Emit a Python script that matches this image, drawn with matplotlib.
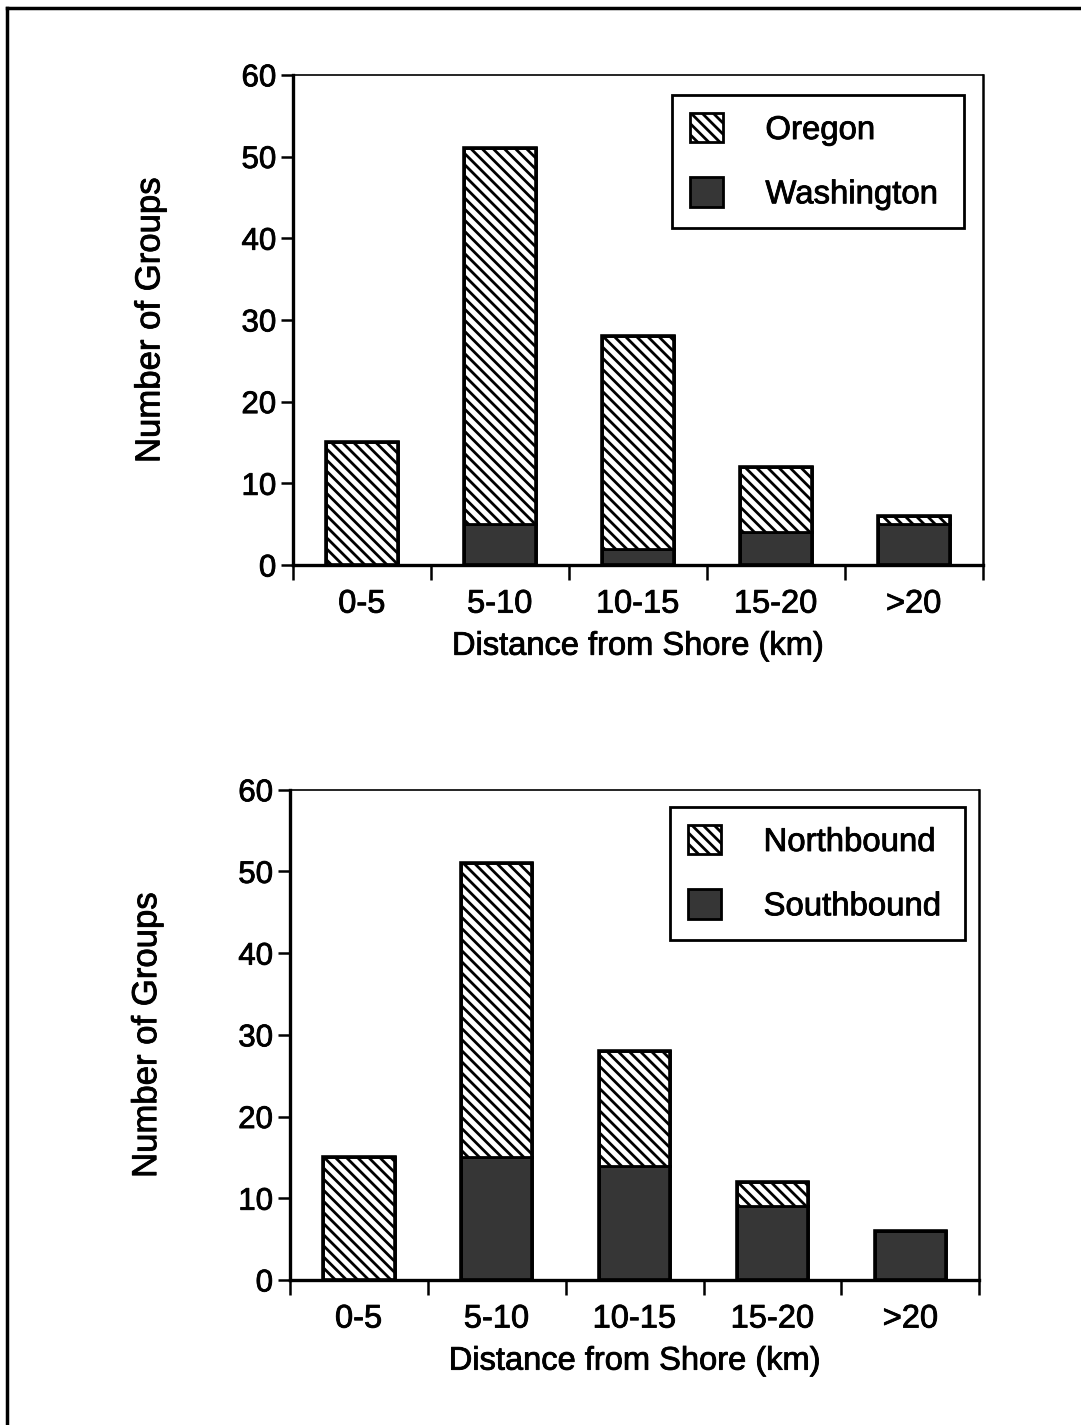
import numpy as np
import matplotlib
matplotlib.use("Agg")
import matplotlib.pyplot as plt
import matplotlib.patheffects as pe
from matplotlib.lines import Line2D
from matplotlib.text import Text

plt.rcParams['font.family'] = ['Liberation Sans', 'DejaVu Sans']
plt.rcParams['hatch.linewidth'] = 2.0

# data
categories = ["0-5", "5-10", "10-15", "15-20", ">20"]
washington = [0, 5, 2, 4, 5]
oregon = [15, 46, 26, 8, 1]
southbound = [0, 15, 14, 9, 6]
northbound = [15, 36, 14, 3, 0]

dark = '#363636'


def draw_panel(ax, light_vals, dark_vals, labels, leg_box):
    x = np.arange(len(categories))
    b1 = ax.bar(x, dark_vals, width=0.52, color=dark, edgecolor='black',
                linewidth=2, label=labels[1])
    b2 = ax.bar(x, light_vals, width=0.52, bottom=dark_vals, color='white',
                edgecolor='black', hatch='\\\\\\', linewidth=2, label=labels[0])
    # outline of whole stack
    tot = np.array(light_vals) + np.array(dark_vals)
    ax.bar(x, tot, width=0.52, color='none', edgecolor='black', linewidth=2.6)

    ax.set_xlim(-0.5, 4.5)
    ax.set_ylim(0, 60)
    ax.set_yticks(range(0, 61, 10))
    ax.set_xticks(np.arange(-0.5, 5, 1))
    ax.set_xticklabels([])
    ax.set_xticks(x, minor=True)
    ax.set_xticklabels(categories, minor=True)
    ax.tick_params(axis='x', which='major', direction='out', length=11,
                   width=1.8)
    ax.tick_params(axis='x', which='minor', length=0, pad=17, labelsize=23.5)
    ax.tick_params(axis='y', direction='out', length=9, width=1.8,
                   labelsize=22.5, pad=3)
    ax.spines['left'].set_linewidth(2.4)
    ax.spines['bottom'].set_linewidth(2.4)
    ax.spines['right'].set_linewidth(1.8)
    ax.spines['top'].set_linewidth(1.2)
    ax.set_xlabel("Distance from Shore (km)", fontsize=23.5, labelpad=8)
    ax.set_ylabel("Number of Groups", fontsize=25, labelpad=54)

    leg = ax.legend([b2, b1], labels, loc='upper left',
                    bbox_to_anchor=leg_box, mode='expand', fontsize=23.7,
                    fancybox=False, edgecolor='black', framealpha=1,
                    handlelength=1.0, handleheight=1.0, labelspacing=0.95,
                    handletextpad=1.3, borderpad=0.55, borderaxespad=0)
    leg.get_frame().set_linewidth(2)


fig = plt.figure(figsize=(10.81, 14.25), dpi=100)

ax1 = fig.add_axes([0.271, 0.6035, 0.638, 0.344])
draw_panel(ax1, oregon, washington, ["Oregon", "Washington"],
           (0.549, 0.0, 0.4246, 0.959))

ax2 = fig.add_axes([0.268, 0.1018, 0.638, 0.344])
draw_panel(ax2, northbound, southbound, ["Northbound", "Southbound"],
           (0.551, 0.0, 0.4275, 0.965))

# slightly heavier text, like the scanned original
for t in fig.findobj(Text):
    t.set_path_effects([pe.withStroke(linewidth=0.6, foreground='black')])

# page frame (left and top edges)
fig.add_artist(Line2D([0.0065, 0.0065], [0.0, 0.9945], color='black',
                      linewidth=2.5, transform=fig.transFigure))
fig.add_artist(Line2D([0.0065, 1.0], [0.9945, 0.9945], color='black',
                      linewidth=2.5, transform=fig.transFigure))

fig.savefig("out.png", dpi=100)
